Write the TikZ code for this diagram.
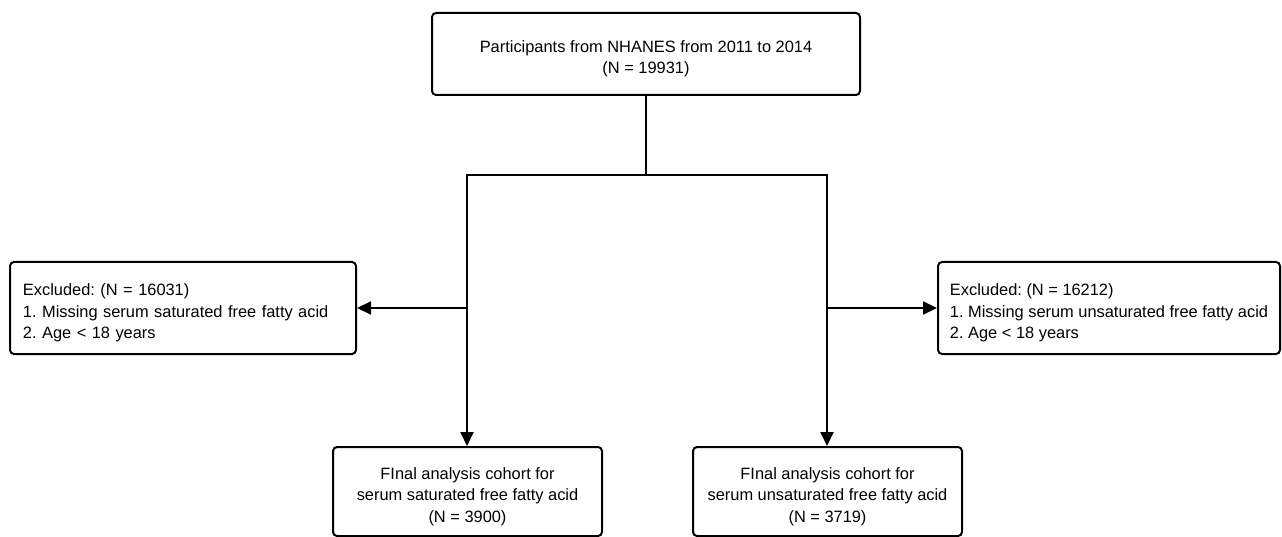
\documentclass[tikz,border=0pt]{standalone}
\usepackage{fontspec}
\setmainfont{Liberation Sans}
\usetikzlibrary{arrows.meta}
\newcommand\fstrut{\rule{0pt}{21.5pt}}
\begin{document}
\begin{tikzpicture}[x=1pt,y=-1pt,
  box/.style={draw, line width=2pt, rounded corners=4pt, font=\fontsize{16.4}{21.5}\selectfont\frenchspacing, inner sep=0pt},
  cbox/.style={box, align=center},
  lbox/.style={box, align=left},
  conn/.style={line width=2pt},
  arr/.style={conn, -{Triangle[length=14pt,width=13pt]}}
]
\useasboundingbox (0,0) rectangle (1282,537);
\node[cbox, minimum width=428pt, minimum height=82pt] (top) at (646,54)
  {\fstrut Participants from NHANES from 2011 to 2014\\(N = 19931)};
\node[lbox, minimum width=346pt, minimum height=92pt, text width=320pt, inner xsep=13pt] (exl) at (183,308)
  {\fstrut Excluded: (N = 16031)\\1. Missing serum saturated free fatty acid\\2. Age < 18 years};
\node[lbox, minimum width=342pt, minimum height=92pt] (exr) at (1109,308)
  {\fstrut Excluded: (N = 16212)\\1. Missing serum unsaturated free fatty acid\\2. Age < 18 years};
\node[cbox, minimum width=269pt, minimum height=89pt] (fl) at (467.5,491.5)
  {\fstrut FInal analysis cohort for\\serum saturated free fatty acid\\(N = 3900)};
\node[cbox, minimum width=269pt, minimum height=89pt] (fr) at (827.5,491.5)
  {\fstrut FInal analysis cohort for\\serum unsaturated free fatty acid\\(N = 3719)};
\coordinate (split) at (646,175);
\coordinate (jl) at (467,175);
\coordinate (jr) at (827,175);
\coordinate (ml) at (467,308);
\coordinate (mr) at (827,308);
\draw[conn] (top.south) -- (split);
\draw[conn, line cap=rect] (jl) -- (jr);
\draw[arr] (jl) -- (jl |- fl.north);
\draw[arr] (jr) -- (jr |- fr.north);
\draw[arr] (ml) -- (exl.east);
\draw[arr] (mr) -- (exr.west);
\end{tikzpicture}
\end{document}
